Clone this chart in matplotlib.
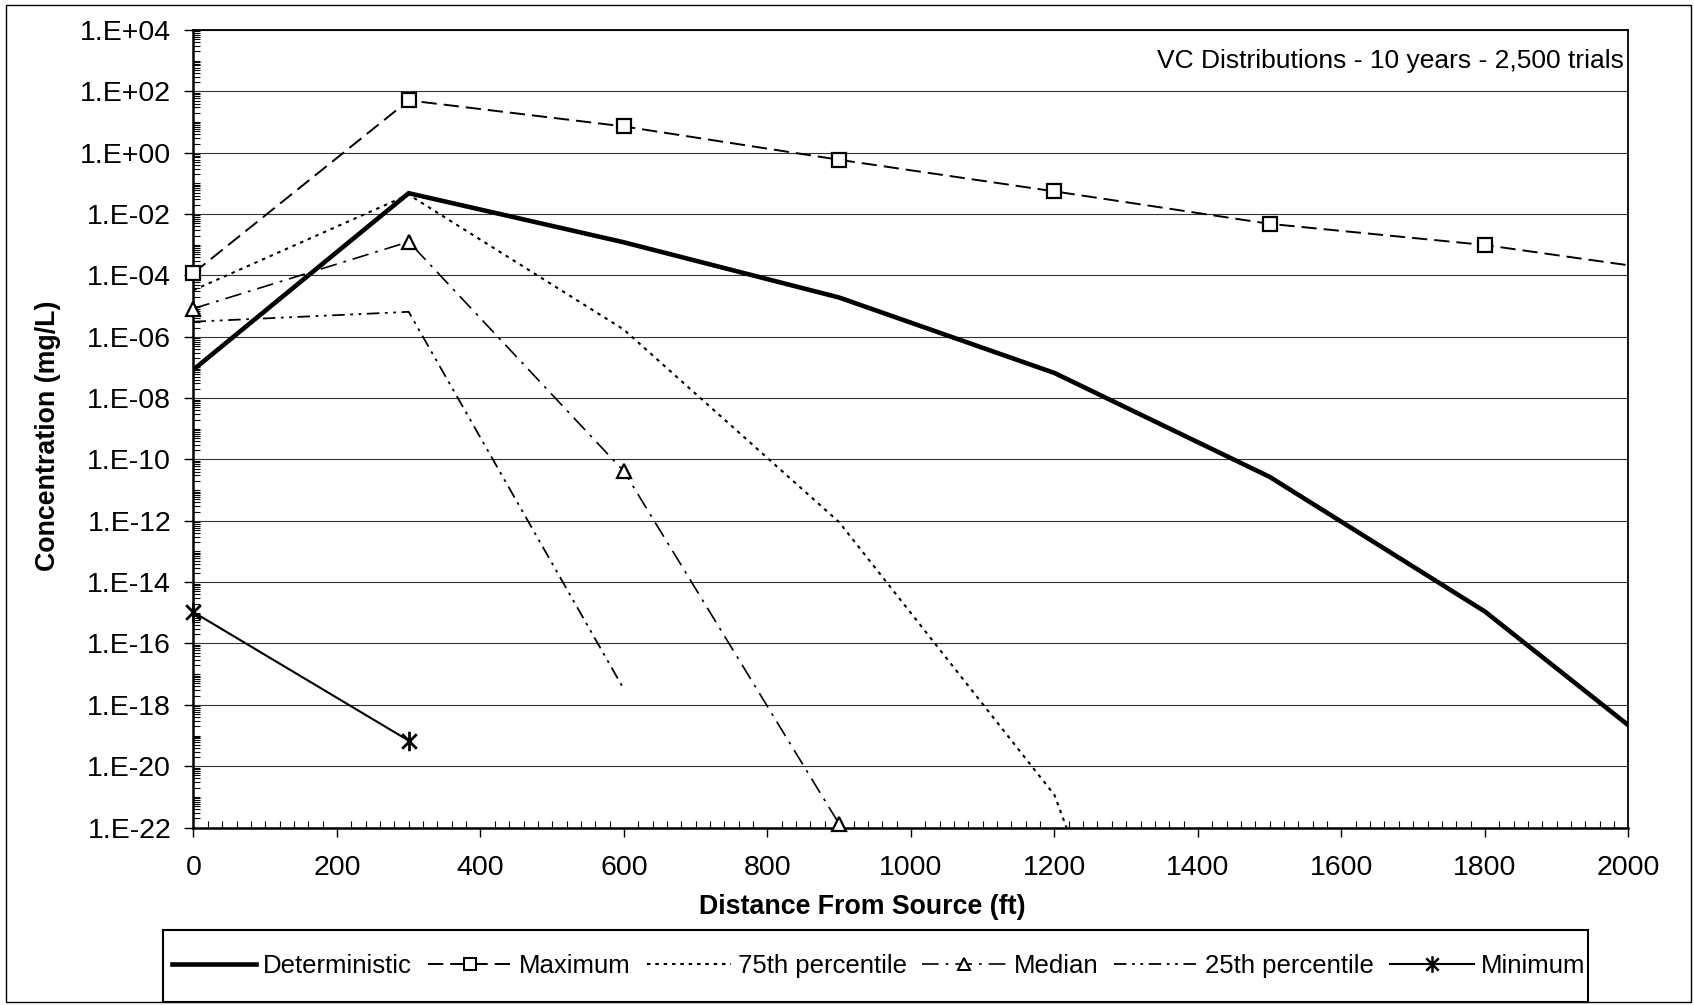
import numpy as np
import matplotlib.pyplot as plt
from matplotlib.lines import Line2D
from matplotlib.patches import Rectangle
from matplotlib.path import Path
from matplotlib.ticker import FixedLocator, FuncFormatter, MultipleLocator

plt.rcParams['font.family'] = ['Liberation Sans', 'DejaVu Sans']
plt.rcParams['lines.scale_dashes'] = False

nan = np.nan

# distance from source (ft) and concentrations (mg/L)
distance = [0, 300, 600, 900, 1200, 1500, 1800, 2100]
deterministic = [8.5e-8, 4.8e-2, 1.2e-3, 1.9e-5, 6.6e-8, 2.7e-11, 1.1e-15, 3.0e-21]
maximum = [1.2e-4, 51, 7.2, 0.59, 0.055, 4.8e-3, 9.8e-4, 1.0e-4]
p75 = [3.3e-5, 4.3e-2, 1.7e-6, 9.0e-13, 1.15e-21, 1e-40, nan, nan]
median = [8.3e-6, 1.25e-3, 4.1e-11, 1.3e-22, nan, nan, nan, nan]
p25 = [3.1e-6, 6.5e-6, 3.2e-18, nan, nan, nan, nan, nan]
minimum = [1.05e-15, 6.8e-20, nan, nan, nan, nan, nan, nan]

labels = ['Deterministic', 'Maximum', '75th percentile', 'Median',
          '25th percentile', 'Minimum']
series = [deterministic, maximum, p75, median, p25, minimum]

# excel style asterisk: vertical bar plus an X
star = Path([(0, -1), (0, 1), (-0.75, -0.75), (0.75, 0.75), (-0.75, 0.75), (0.75, -0.75)],
            [Path.MOVETO, Path.LINETO, Path.MOVETO, Path.LINETO, Path.MOVETO, Path.LINETO])

# style: linestyle, linewidth, marker, markersize, marker edge width
styles = [
    ('-', 3.3, None, 0, 0),
    ((0, (11, 5)), 1.4, 's', 9.5, 1.6),
    ((0, (2.5, 3.5)), 1.5, None, 0, 0),
    ((0, (12, 5, 2, 5)), 1.2, '^', 10.5, 1.6),
    ((0, (9, 4, 2, 4, 2, 4)), 1.3, None, 0, 0),
    ('-', 1.5, star, 14, 2.0),
]

XMIN, XMAX = 0, 2000
YMIN, YMAX = 1e-22, 1e4

fig = plt.figure(figsize=(16.94, 10.05), dpi=100)
ax = fig.add_axes([0.1142, 0.1766, 0.8471, 0.7935])

x = np.array(distance, dtype=float)
handles = []
for lab, vals, (ls, lw, mk, ms, mew) in zip(labels, series, styles):
    y = np.array(vals, dtype=float)
    ok = ~np.isnan(y)
    ax.plot(x[ok], y[ok], color='black', ls=ls, lw=lw, zorder=3,
            solid_joinstyle='miter')
    if mk is not None:
        vis = ok & (x >= XMIN) & (x <= XMAX)
        vis[ok] = vis[ok] & (y[ok] >= YMIN * 0.9) & (y[ok] <= YMAX)
        ax.plot(x[vis], y[vis], ls='none', marker=mk, ms=ms,
                mfc='white', mec='black', mew=mew, clip_on=False, zorder=4)
    handles.append(Line2D([], [], color='black', ls=ls, lw=lw, marker=mk,
                          ms=ms * 0.85, mfc='white', mec='black', mew=mew * 0.9))

ax.set_yscale('log')
ax.set_xlim(XMIN, XMAX)
ax.set_ylim(YMIN, YMAX)

major_y = [10.0 ** e for e in range(-22, 5, 2)]
minor_y = [m * 10.0 ** e for e in range(-22, 4) for m in range(1, 10)
           if not (m == 1 and e % 2 == 0)]
ax.yaxis.set_major_locator(FixedLocator(major_y))
ax.yaxis.set_minor_locator(FixedLocator(minor_y))
ax.yaxis.set_major_formatter(FuncFormatter(
    lambda v, pos: '1.E%+03d' % int(round(np.log10(v)))))
ax.yaxis.set_minor_formatter(FuncFormatter(lambda v, pos: ''))
ax.xaxis.set_major_locator(MultipleLocator(200))
ax.xaxis.set_minor_locator(MultipleLocator(20))

ax.tick_params(which='major', direction='out', length=6.5, width=1,
               labelsize=20.5, colors='black')
ax.tick_params(which='minor', direction='in', length=5, width=0.8)
ax.tick_params(axis='y', which='major', pad=9.5)
ax.tick_params(axis='x', which='major', pad=13)

ax.yaxis.grid(True, which='major', color='#333333', lw=0.8)
ax.set_axisbelow(True)

for side in ['left', 'bottom']:
    ax.spines[side].set_linewidth(1.8)
for side in ['top', 'right']:
    ax.spines[side].set_linewidth(1.3)

ax.set_xlabel('Distance From Source (ft)', fontsize=19.3, fontweight='bold')
ax.set_ylabel('Concentration (mg/L)', fontsize=19.3, fontweight='bold')
ax.xaxis.set_label_coords(0.466, -0.0997)
ax.xaxis.label.set_va('center')
ax.yaxis.set_label_coords(-0.1017, 0.491)
ax.yaxis.label.set_va('center')

ax.text(0.997, 0.952, 'VC Distributions - 10 years - 2,500 trials',
        transform=ax.transAxes, ha='right', va='baseline', fontsize=19)

leg = fig.legend(handles, labels, loc='center', bbox_to_anchor=(0.5187, 0.0388),
                 ncol=6, fontsize=18.5, frameon=False, handlelength=3.27,
                 handletextpad=0.27, columnspacing=0.62, borderpad=0,
                 borderaxespad=0)

# legend box
fig.add_artist(Rectangle((163 / 1694, 1 - 1002 / 1005), 1425 / 1694, 72 / 1005,
                         transform=fig.transFigure, fill=False,
                         edgecolor='black', lw=1.5))

# chart area border
fig.add_artist(Rectangle((6 / 1694, 1 - 1002 / 1005), 1685 / 1694, 997 / 1005,
                         transform=fig.transFigure, fill=False,
                         edgecolor='black', lw=1))

fig.savefig('out.png', dpi=100)
